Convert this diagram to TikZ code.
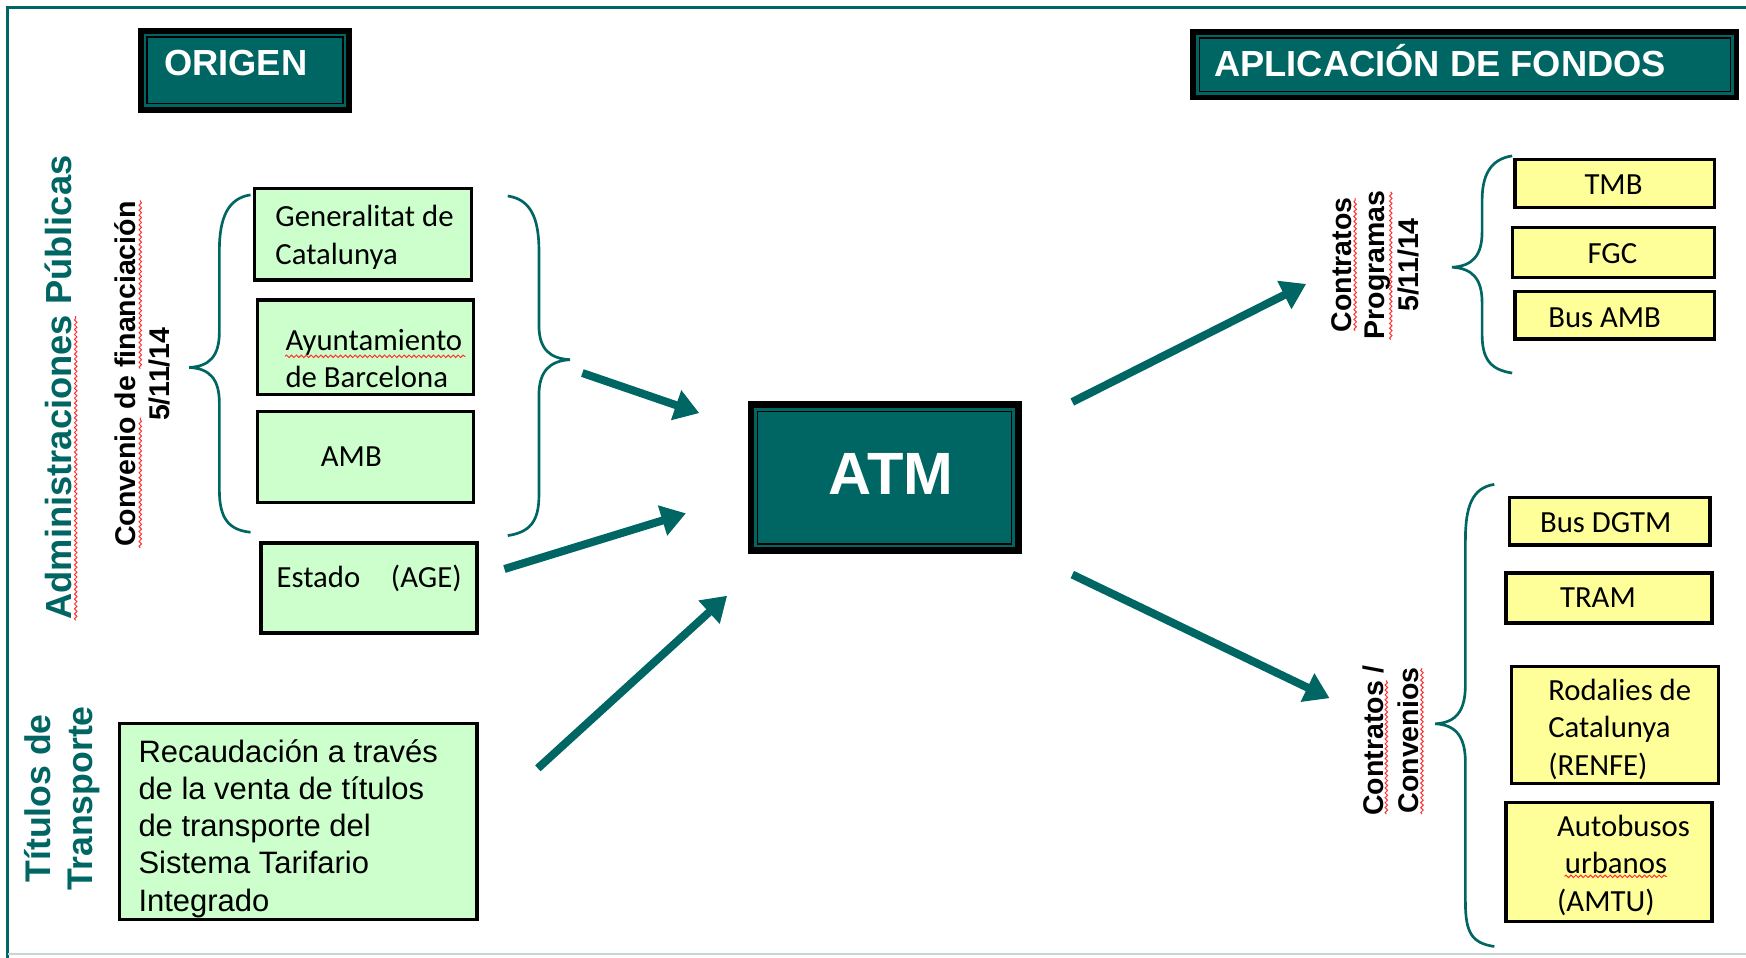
\documentclass[tikz,border=0pt]{standalone}
\usepackage{fontspec}
\setmainfont{Carlito}
\newfontfamily\arialf{Liberation Sans}
\usetikzlibrary{arrows.meta,decorations.pathmorphing}
\definecolor{teal1}{RGB}{0,102,99}
\definecolor{gfill}{HTML}{CCFFCC}
\definecolor{yfill}{HTML}{FFFF99}
\definecolor{framegray}{RGB}{200,214,214}
\begin{document}
\begin{tikzpicture}[x=0.5pt,y=-0.5pt,
  hdr/.style={fill=teal1,draw=black,line width=2.6pt,inner sep=0pt,outer sep=0pt},
  hdrin/.style={draw=black,line width=0.6pt},
  gbox/.style={fill=gfill,draw=black,line width=1.5pt,inner sep=0pt,outer sep=0pt},
  ybox/.style={fill=yfill,draw=black,line width=1.5pt,inner sep=0pt,outer sep=0pt},
  btxt/.style={font=\fontsize{13.8}{16.8}\selectfont,inner sep=0pt,align=left},
  rtxt/.style={font=\arialf\fontsize{13.9}{16.75}\selectfont,inner sep=0pt,align=left},
  hdrtxt/.style={font=\arialf\bfseries\fontsize{16.3}{19}\selectfont,text=white,inner sep=0pt},
  side/.style={font=\arialf\bfseries\fontsize{16.3}{19}\selectfont,text=teal1,rotate=90,align=center,inner sep=0pt},
  sub/.style={font=\arialf\bfseries\fontsize{12.8}{15}\selectfont,rotate=90,align=center,inner sep=0pt},
  brace/.style={draw=teal1,line width=1.2pt},
  flow/.style={draw=teal1,line width=3.6pt,-{Triangle[length=11pt,width=13.5pt]}},
  spell/.style={draw=red!80!white,line width=0.45pt,decorate,decoration={snake,amplitude=0.55pt,segment length=2.2pt}},
]
\useasboundingbox (0,0) rectangle (1568,860);
\fill[white] (0,0) rectangle (1568,860);

% frame
\draw[teal1,line width=1.5pt] (7,860) -- (7,6.5) -- (1568,6.5);
\draw[framegray,line width=1pt] (7,857) -- (1568,857);

% headers
\node[hdr,minimum width=93.5pt,minimum height=35.5pt] (org) at (220,63) {};
\draw[hdrin] ([xshift=2.8pt,yshift=-2.8pt]org.north west) rectangle ([xshift=-2.8pt,yshift=2.8pt]org.south east);
\node[hdrtxt,anchor=base west] (orgt) at (147,68) {ORIGEN};

\node[hdr,minimum width=244pt,minimum height=29.5pt] (apl) at (1315.5,58) {};
\draw[hdrin] ([xshift=2.8pt,yshift=-2.8pt]apl.north west) rectangle ([xshift=-2.8pt,yshift=2.8pt]apl.south east);
\node[hdrtxt,anchor=base west] (aplt) at (1090,69) {APLICACIÓN DE FONDOS};

\node[hdr,line width=3pt,minimum width=120pt,minimum height=65.5pt] (atm) at (794.5,429) {};
\draw[hdrin] ([xshift=3pt,yshift=-3pt]atm.north west) rectangle ([xshift=-3pt,yshift=3pt]atm.south east);
\node[font=\arialf\bfseries\fontsize{26.8}{30}\selectfont,text=white,inner sep=0pt,anchor=base] (atmt) at (800,444) {ATM};

% side labels
\node[side] (admin) at (52,348) {Administraciones Públicas};
\node[side,font=\arialf\bfseries\fontsize{16}{19}\selectfont] (tit) at (56,717) {Títulos de\\Transporte};
\node[sub] (conv) at (128,336) {Convenio de financiación\\5/11/14};
\node[sub] (cprog) at (1235,238) {Contratos\\Programas\\5/11/14};
\node[sub,font=\arialf\bfseries\fontsize{12.8}{16}\selectfont] (cconv) at (1249,665) {Contratos /\\Convenios};

% green boxes
\node[gbox,minimum width=97.5pt,minimum height=41pt] (gen) at (326,210.5) {};
\node[btxt,anchor=west] (gent) at (247,213) {Generalitat de\\Catalunya};
\node[gbox,minimum width=97pt,minimum height=42.5pt] (ayu) at (328.5,312) {};
\node[btxt,anchor=west] (ayut) at (256,322) {Ayuntamiento\\de Barcelona};
\node[gbox,minimum width=97pt,minimum height=41pt] (amb) at (328.5,410.5) {};
\node[btxt] (ambt) at (315.5,410) {AMB};
\node[gbox,minimum width=97pt,minimum height=40.5pt] (est) at (331.5,528) {};
\node[btxt,anchor=west] (estt) at (248,519) {Estado\hspace{13.8pt}(AGE)};
\node[gbox,minimum width=160.5pt,minimum height=88pt] (rec) at (268,737.5) {};
\node[rtxt,anchor=west] (rect) at (124,744) {Recaudación a través\\de la venta de títulos\\de transporte del\\Sistema Tarifario\\Integrado};

% yellow boxes
\node[ybox,minimum width=89.5pt,minimum height=21.5pt] (tmb) at (1450,165) {};
\node[btxt] (tmbt) at (1449,166) {TMB};
\node[ybox,minimum width=90.5pt,minimum height=22.5pt] (fgc) at (1449,227) {};
\node[btxt] (fgct) at (1448,228) {FGC};
\node[ybox,minimum width=89.5pt,minimum height=21.5pt] (bam) at (1450,283) {};
\node[btxt] (bamt) at (1441,285) {Bus AMB};
\node[ybox,minimum width=90pt,minimum height=21.5pt] (dgtm) at (1445.5,468) {};
\node[btxt] (dgtmt) at (1442,469) {Bus DGTM};
\node[ybox,minimum width=92.5pt,minimum height=22.5pt] (tram) at (1445,537) {};
\node[btxt] (tramt) at (1435,537) {TRAM};
\node[ybox,minimum width=93pt,minimum height=52.5pt] (rod) at (1450.5,651) {};
\node[btxt,anchor=west] (rodt) at (1390,655) {Rodalies de\\Catalunya\\(RENFE)};
\node[ybox,minimum width=92.5pt,minimum height=53.5pt] (amtu) at (1445,774) {};
\node[btxt,anchor=west] (amtut) at (1398,777) {Autobusos\\\hspace{3.5pt}urbanos\\(AMTU)};

% braces
\draw[brace] (225,175) .. controls (205,178) and (197,195) .. (197,225) -- (197,298)
  .. controls (197,320) and (188,329) .. (170,330) .. controls (188,331) and (197,340) .. (197,362)
  -- (197,440) .. controls (197,465) and (205,476) .. (225,478);
\draw[brace] (456,176) .. controls (476,179) and (484,195) .. (484,225) -- (484,292)
  .. controls (484,314) and (494,322) .. (512,323) .. controls (494,324) and (484,333) .. (484,355)
  -- (484,445) .. controls (484,468) and (476,478) .. (456,481);
\draw[brace] (1358,140) .. controls (1338,143) and (1331,158) .. (1331,180) -- (1331,208)
  .. controls (1331,230) and (1322,239) .. (1304,240) .. controls (1322,241) and (1331,250) .. (1331,272)
  -- (1331,300) .. controls (1331,322) and (1338,332) .. (1358,335);
\draw[brace] (1342,435) .. controls (1322,438) and (1316,455) .. (1316,485) -- (1316,615)
  .. controls (1316,638) and (1308,649) .. (1289,650) .. controls (1308,651) and (1316,662) .. (1316,685)
  -- (1316,810) .. controls (1316,838) and (1322,847) .. (1342,850);

% arrows
\coordinate (a1s) at (523,335); \coordinate (a1e) at (628,371);
\coordinate (a2s) at (453,511); \coordinate (a2e) at (616,461);
\coordinate (a3s) at (483,690); \coordinate (a3e) at (653,535);
\coordinate (a4s) at (963,361); \coordinate (a4e) at (1173,255);
\coordinate (a5s) at (963,516); \coordinate (a5e) at (1194,627);
\draw[flow] (a1s) -- (a1e);
\draw[flow] (a2s) -- (a2e);
\draw[flow] (a3s) -- (a3e);
\draw[flow] (a4s) -- (a4e);
\draw[flow] (a5s) -- (a5e);

% spell-check underlines
\draw[spell] (68,557) -- (68,284);
\draw[spell] (126,492) -- (126,375);
\draw[spell] (126,331) -- (126,180);
\draw[spell] (256,320) -- (418,320);
\draw[spell] (1217,297) -- (1217,178);
\draw[spell] (1249,305) -- (1249,172);
\draw[spell] (1245,731) -- (1245,611);
\draw[spell] (1277,731) -- (1277,600);
\draw[spell] (1405,787) -- (1497,787);
\end{tikzpicture}
\end{document}
